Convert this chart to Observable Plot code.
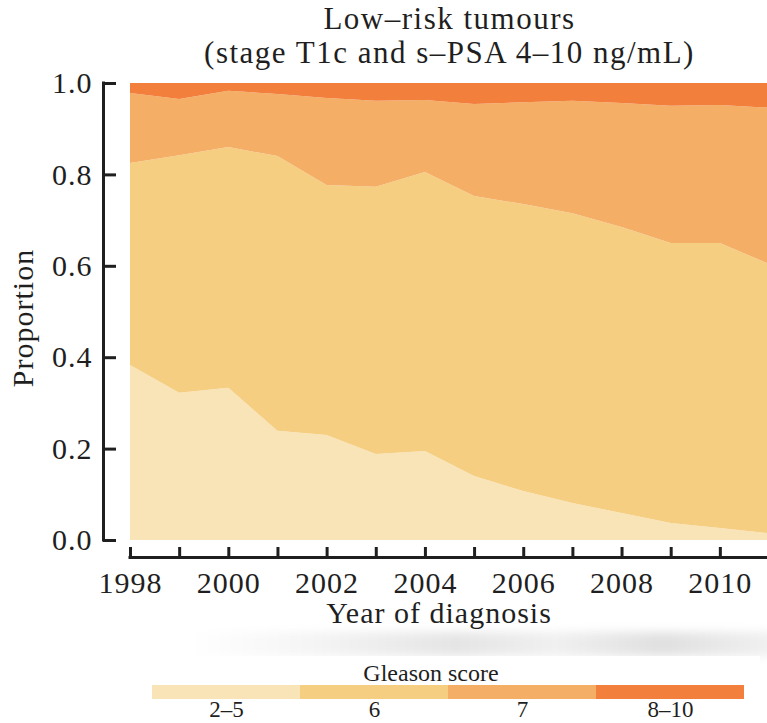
<!DOCTYPE html>
<html>
<head>
<meta charset="utf-8">
<script src="https://cdn.jsdelivr.net/npm/d3@7"></script>
<script src="https://cdn.jsdelivr.net/npm/@observablehq/plot@0.6"></script>
<style>
  html, body { margin: 0; padding: 0; background: #fff; overflow: hidden; }
  body { width: 767px; height: 723px; position: relative; font-family: "Liberation Serif", "Times New Roman", serif; color: #1f1f1f; }
  #title { position: absolute; top: 2px; left: 130px; width: 639px; text-align: center; font-size: 31px; line-height: 34px; letter-spacing: 1.5px; }
  #chart { position: absolute; top: 55px; left: 0; }
  #shade { position: absolute; top: 632px; left: 190px; width: 590px; height: 24px;
    background: linear-gradient(to right, rgba(0,0,0,0) 0%, rgba(0,0,0,0.04) 20%, rgba(0,0,0,0.10) 45%, rgba(0,0,0,0.06) 62%, rgba(0,0,0,0.12) 80%, rgba(0,0,0,0.05) 100%);
    filter: blur(5px); }
  #legendbox { position: absolute; top: 656px; left: 142px; width: 618px; height: 67px; background: #fff; }
  #legend { position: absolute; top: 640px; left: 0; }
</style>
</head>
<body>
<div id="title">Low–risk tumours<br>(stage T1c and s–PSA 4–10 ng/mL)</div>
<div id="chart"></div>
<div id="shade"></div>
<div id="legendbox"></div>
<div id="legend"></div>
<script>
// Year of diagnosis
const years = [1998, 1999, 2000, 2001, 2002, 2003, 2004, 2005, 2006, 2007, 2008, 2009, 2010, 2011];

// Gleason score groups, bottom to top
const grades = ["2–5", "6", "7", "8–10"];
const gradeColors = ["#f9e4b7", "#f5ce82", "#f4ae66", "#f27f3c"];

// Proportion of low-risk tumours in each Gleason group, per year
const share25  = [0.383, 0.322, 0.333, 0.239, 0.230, 0.188, 0.195, 0.140, 0.107, 0.081, 0.059, 0.037, 0.026, 0.015];
const share6   = [0.442, 0.520, 0.527, 0.601, 0.547, 0.585, 0.610, 0.613, 0.628, 0.634, 0.626, 0.613, 0.624, 0.589];
const share7   = [0.153, 0.123, 0.123, 0.136, 0.190, 0.188, 0.158, 0.201, 0.223, 0.246, 0.271, 0.300, 0.302, 0.342];
const share810 = [0.022, 0.035, 0.017, 0.024, 0.033, 0.039, 0.037, 0.046, 0.042, 0.039, 0.044, 0.050, 0.048, 0.054];

// Axis ticks
const yTicks = [0, 0.2, 0.4, 0.6, 0.8, 1.0];
const xTickLabels = [1998, 2000, 2002, 2004, 2006, 2008, 2010];

const series = [share25, share6, share7, share810];
const rows = grades.flatMap((grade, i) =>
  years.map((year, j) => ({year, grade, share: series[i][j]}))
);

const ink = "#1f1f1f";
const serif = "'Liberation Serif', 'Times New Roman', serif";
const W = 767, H = 585;
const mTop = 28, mBottom = 100, mLeft = 130, mRight = -2;
const frameW = W - mLeft - mRight, frameH = H - mTop - mBottom;
const axisGap = 27;   // y axis sits left of the plot area
const baseGap = 17;   // x axis sits below the plot area

const chart = Plot.plot({
  width: W,
  height: H,
  marginTop: mTop,
  marginBottom: mBottom,
  marginLeft: mLeft,
  marginRight: mRight,
  style: {fontFamily: serif, fontSize: "30px", color: ink, background: "transparent"},
  x: {domain: [years[0], years[years.length - 1]], label: null},
  y: {domain: [0, 1], label: null},
  color: {domain: grades, range: gradeColors},
  marks: [
    Plot.areaY(rows, {x: "year", y: "share", z: "grade", fill: "grade", order: grades}),
    // y axis line and inward ticks
    Plot.ruleX([years[0]], {y1: 0, y2: 1, dx: -axisGap, stroke: ink, strokeWidth: 3, strokeLinecap: "square"}),
    Plot.tickY(yTicks, {y: d => d, dx: -axisGap, insetRight: frameW - 13, stroke: ink, strokeWidth: 3}),
    Plot.axisY({ticks: yTicks, tickSize: 0, tickPadding: 38, tickFormat: d3.format(".1f"), label: null, fontSize: 30}),
    // x axis line and upward ticks for every year
    Plot.ruleY([0], {x1: years[0], x2: years[years.length - 1], dy: baseGap, stroke: ink, strokeWidth: 3, strokeLinecap: "square"}),
    Plot.tickX(years, {x: d => d, dy: baseGap, insetTop: frameH - 10, stroke: ink, strokeWidth: 3}),
    Plot.axisX({ticks: xTickLabels, tickSize: 0, tickPadding: 31, tickFormat: d => String(d), label: null, fontSize: 30}),
    Plot.text(["Year of diagnosis"], {frameAnchor: "bottom", dx: -11, dy: 73, lineAnchor: "middle", textAnchor: "middle", fontSize: 30, fill: ink}),
    Plot.text(["Proportion"], {frameAnchor: "left", rotate: -90, dx: -107.6, dy: 6, lineAnchor: "middle", textAnchor: "middle", fontSize: 30, fill: ink})
  ]
});
chart.querySelectorAll("text").forEach(t => t.style.letterSpacing = "1px");
document.getElementById("chart").append(chart);

// Colour key for the Gleason groups
const key = Plot.plot({
  width: W,
  height: 90,
  marginTop: 45,
  marginBottom: 31,
  marginLeft: 150,
  marginRight: 22,
  style: {fontFamily: serif, fontSize: "23px", color: ink, background: "transparent"},
  x: {type: "band", domain: grades, padding: 0, label: null},
  color: {domain: grades, range: gradeColors},
  marks: [
    Plot.cell(grades, {x: d => d, fill: d => d}),
    Plot.axisX({tickSize: 0, tickPadding: 1, label: null, fontSize: 23}),
    Plot.text(["Gleason score"], {frameAnchor: "top", dx: -17, dy: -12, lineAnchor: "middle", textAnchor: "middle", fontSize: 24, fill: ink})
  ]
});
document.getElementById("legend").append(key);
</script>
</body>
</html>
